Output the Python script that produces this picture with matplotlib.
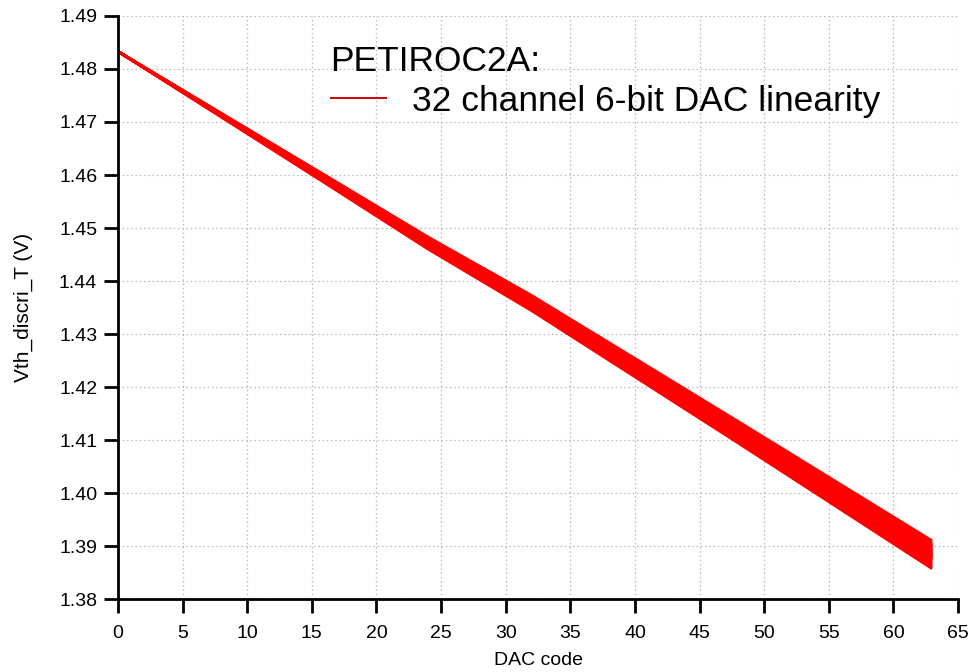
import matplotlib
matplotlib.use("Agg")
import matplotlib.pyplot as plt
import numpy as np

plt.rcParams['font.family'] = ['Liberation Sans', 'DejaVu Sans']

dac_codes = [0, 16, 24, 32, 48, 63]

# Vth_discri_T (V) for each of the 32 channels at the codes above
channels = [
    [1.4833, 1.4600, 1.4483, 1.4373, 1.4135, 1.3910],
    [1.4833, 1.4599, 1.4482, 1.4371, 1.4132, 1.3906],
    [1.4833, 1.4598, 1.4480, 1.4369, 1.4130, 1.3903],
    [1.4833, 1.4597, 1.4479, 1.4367, 1.4128, 1.3901],
    [1.4833, 1.4597, 1.4478, 1.4366, 1.4126, 1.3899],
    [1.4833, 1.4596, 1.4477, 1.4365, 1.4124, 1.3897],
    [1.4833, 1.4596, 1.4477, 1.4364, 1.4123, 1.3896],
    [1.4833, 1.4595, 1.4476, 1.4363, 1.4122, 1.3894],
    [1.4833, 1.4595, 1.4475, 1.4362, 1.4121, 1.3893],
    [1.4833, 1.4594, 1.4475, 1.4361, 1.4120, 1.3891],
    [1.4833, 1.4594, 1.4474, 1.4360, 1.4119, 1.3890],
    [1.4833, 1.4594, 1.4474, 1.4360, 1.4118, 1.3889],
    [1.4833, 1.4593, 1.4473, 1.4359, 1.4117, 1.3888],
    [1.4833, 1.4593, 1.4473, 1.4359, 1.4117, 1.3887],
    [1.4833, 1.4593, 1.4472, 1.4358, 1.4116, 1.3886],
    [1.4833, 1.4593, 1.4472, 1.4358, 1.4115, 1.3885],
    [1.4833, 1.4592, 1.4471, 1.4357, 1.4114, 1.3884],
    [1.4833, 1.4592, 1.4471, 1.4357, 1.4113, 1.3883],
    [1.4833, 1.4592, 1.4470, 1.4356, 1.4113, 1.3882],
    [1.4833, 1.4591, 1.4470, 1.4356, 1.4112, 1.3881],
    [1.4833, 1.4591, 1.4469, 1.4355, 1.4111, 1.3880],
    [1.4833, 1.4591, 1.4469, 1.4355, 1.4110, 1.3879],
    [1.4833, 1.4590, 1.4468, 1.4354, 1.4110, 1.3878],
    [1.4833, 1.4590, 1.4468, 1.4354, 1.4109, 1.3877],
    [1.4833, 1.4590, 1.4467, 1.4353, 1.4108, 1.3876],
    [1.4833, 1.4589, 1.4467, 1.4352, 1.4107, 1.3874],
    [1.4833, 1.4589, 1.4466, 1.4351, 1.4105, 1.3872],
    [1.4833, 1.4588, 1.4465, 1.4350, 1.4103, 1.3869],
    [1.4833, 1.4588, 1.4464, 1.4348, 1.4101, 1.3866],
    [1.4833, 1.4587, 1.4463, 1.4347, 1.4098, 1.3863],
    [1.4833, 1.4586, 1.4461, 1.4345, 1.4096, 1.3860],
    [1.4833, 1.4585, 1.4460, 1.4344, 1.4094, 1.3857],
]

x_ticks = [0, 5, 10, 15, 20, 25, 30, 35, 40, 45, 50, 55, 60, 65]
y_ticks = [1.38, 1.39, 1.40, 1.41, 1.42, 1.43, 1.44, 1.45, 1.46, 1.47, 1.48, 1.49]
y_tick_labels = ["1.38", "1.39", "1.40", "1.41", "1.42", "1.43", "1.44", "1.45",
                 "1.46", "1.47", "1.48", "1.49"]

fig = plt.figure(figsize=(9.73, 6.72), dpi=100)
ax = fig.add_axes([0.1213, 0.1086, 0.8633, 0.8676])

for i, vals in enumerate(channels):
    ax.plot(dac_codes, vals, color='#ff0000', lw=1.9,
            solid_capstyle='butt',
            label='32 channel 6-bit DAC linearity' if i == 0 else None)

ax.set_xlim(0, 65)
ax.set_ylim(1.38, 1.49)
ax.set_xticks(x_ticks)
ax.set_yticks(y_ticks)
ax.set_yticklabels(y_tick_labels)

ax.grid(True, color='#b8b8b8', linestyle=(0, (1.2, 2.2)), lw=0.9)
ax.set_axisbelow(True)

for s in ['top', 'right']:
    ax.spines[s].set_visible(False)
for s in ['left', 'bottom']:
    ax.spines[s].set_linewidth(2)

ax.tick_params(axis='both', direction='out', length=10, width=2,
               labelsize=14, pad=5)
ax.tick_params(axis='x', pad=9)

ax.set_xlabel('DAC code', fontsize=14, labelpad=7)
ax.set_ylabel('Vth_discri_T (V)', fontsize=15, labelpad=19)

leg = ax.legend(title='PETIROC2A:', loc='upper left',
                bbox_to_anchor=(0.236, 0.975), frameon=False,
                fontsize=25.5, title_fontsize=25.5, handlelength=1.6,
                handletextpad=0.7, borderaxespad=0, labelspacing=0.2)
leg._legend_box.align = "left"
for line in leg.get_lines():
    line.set_linewidth(1.4)
    line.set_color('#d40000')

fig.savefig('out.png', dpi=100)
